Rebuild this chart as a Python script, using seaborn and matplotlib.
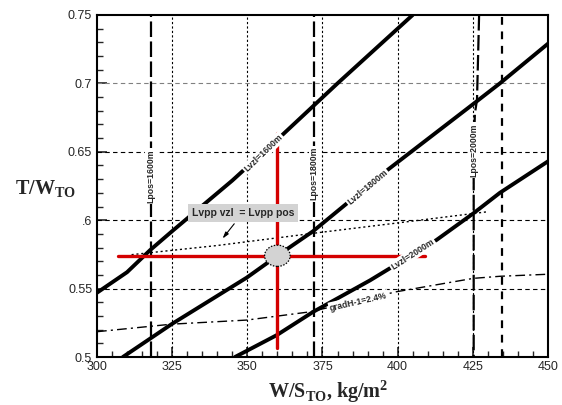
import numpy as np
import matplotlib
matplotlib.use("Agg")
import matplotlib.pyplot as plt
from matplotlib.patches import Ellipse
import seaborn as sns

# curves (W/S, T/W)
lvzl1600_x = [300, 310, 317.6, 325, 345, 361, 380, 405]
lvzl1600_y = [0.547, 0.562, 0.578, 0.592, 0.629, 0.661, 0.700, 0.750]
lvzl1800_x = [308.6, 324.8, 349.8, 360, 371.9, 396.8, 425.2, 434, 450]
lvzl1800_y = [0.500, 0.524, 0.558, 0.574, 0.592, 0.637, 0.685, 0.700, 0.729]
lvzl2000_x = [345.9, 359.8, 371.9, 390.8, 412.9, 425.2, 434, 450]
lvzl2000_y = [0.500, 0.516, 0.533, 0.556, 0.5855, 0.605, 0.620, 0.643]
grad_x = [300, 324.8, 349.8, 370.8, 399.6, 425.2, 434, 450]
grad_y = [0.5185, 0.524, 0.527, 0.533, 0.5477, 0.5575, 0.559, 0.5605]
lvpp_x = [311.5, 340, 374, 400, 430]
lvpp_y = [0.5748, 0.5815, 0.591, 0.598, 0.6062]
lpos1600_x = [318, 318]
lpos1600_y = [0.5, 0.75]
lpos1800_x = [372.3, 372.3]
lpos1800_y = [0.5, 0.75]
lpos2000_x = [427.1, 426.4, 425.7, 425.3, 425.3]
lpos2000_y = [0.75, 0.688, 0.678, 0.65, 0.5]
extra_x = [434.7, 434.7]
extra_y = [0.5, 0.75]

design_ws = 360
design_tw = 0.574
cross_h_x = [307, 409]
cross_v_y = [0.5064, 0.664]

x_major = [300, 325, 350, 375, 400, 425, 450]
y_major = [0.5, 0.55, 0.6, 0.65, 0.7, 0.75]
y_labels = ["0.5", "0.55", ".6", "0.65", "0.7", "0.75"]
grid_x = [325, 350, 375, 400, 425]
grid_y = [0.55, 0.6, 0.65, 0.7]
grid_y_colors = ["black", "black", "black", "0.5"]

sns.set_style("ticks")
plt.rcParams["font.family"] = ["Liberation Sans", "DejaVu Sans"]
plt.rcParams["mathtext.fontset"] = "custom"
plt.rcParams["mathtext.rm"] = "Liberation Serif"
plt.rcParams["mathtext.bf"] = "Liberation Serif:bold"

fig = plt.figure(figsize=(5.62, 4.05), dpi=100)
ax = fig.add_axes([0.1726, 0.1185, 0.8024, 0.8445])

for gx in grid_x:
    ax.axvline(gx, color="black", lw=0.8, linestyle=(0, (2, 2)), zorder=1)
for gy, gc in zip(grid_y, grid_y_colors):
    ax.axhline(gy, color=gc, lw=0.8, linestyle=(0, (4, 3)), zorder=1)

def line(xs, ys, **kw):
    sns.lineplot(x=xs, y=ys, sort=False, estimator=None, color=kw.pop("color", "black"),
                 ax=ax, **kw)

# vertical Lpos lines
for xs, ys in [(lpos1600_x, lpos1600_y), (lpos1800_x, lpos1800_y), (lpos2000_x, lpos2000_y)]:
    line(xs, ys, lw=1.6, linestyle=(0, (7, 2)), zorder=2)
line(extra_x, extra_y, lw=1.6, linestyle=(0, (3.5, 3)), zorder=2)

# gradient and equal-length lines
line(grad_x, grad_y, lw=1.0, linestyle=(0, (7, 3, 1.5, 3)), zorder=2)
line(lvpp_x, lvpp_y, lw=1.0, linestyle=(0, (1.5, 2)), zorder=2)

# Lvzl curves
for xs, ys in [(lvzl1600_x, lvzl1600_y), (lvzl1800_x, lvzl1800_y), (lvzl2000_x, lvzl2000_y)]:
    line(xs, ys, lw=2.8, zorder=3)

# red cross + design point
red = "#d40000"
line(cross_h_x, [design_tw, design_tw], color=red, lw=2.4, zorder=4)
line([design_ws, design_ws], cross_v_y, color=red, lw=2.4, zorder=4)
ax.add_patch(Ellipse((design_ws, design_tw), 8.5, 0.0155, facecolor="#d3d3d3",
                     edgecolor="black", lw=0.9, linestyle=(0, (1.2, 1.2)), zorder=5))

# inline labels
lab = dict(fontsize=6.3, fontweight="bold", ha="center", va="center", zorder=6,
           bbox=dict(boxstyle="square,pad=0.15", fc="white", ec="none"))
ax.text(355.3, 0.649, "Lvzl=1600m", rotation=44, **lab)
ax.text(390, 0.624, "Lvzl=1800m", rotation=40, **lab)
ax.text(405, 0.575, "Lvzl=2000m", rotation=33, **lab)
ax.text(387, 0.5405, "gradH-1=2.4%", rotation=13, **lab)
ax.text(318, 0.632, "Lpos=1600m", rotation=90, **lab)
ax.text(372.3, 0.634, "Lpos=1800m", rotation=90, **lab)
ax.text(425.4, 0.651, "Lpos=2000m", rotation=90, **lab)

ax.annotate("Lvpp vzl  = Lvpp pos", xy=(341.2, 0.585), xytext=(348.5, 0.6053),
            fontsize=7.5, fontweight="bold", ha="center", va="center", zorder=6,
            bbox=dict(boxstyle="square,pad=0.35", fc="#d3d3d3", ec="none"),
            arrowprops=dict(arrowstyle="-|>,head_length=0.5,head_width=0.15",
                            color="black", lw=0.8))

ax.set_xlim(300, 450)
ax.set_ylim(0.5, 0.75)
ax.set_xticks(x_major)
ax.set_xticks(np.arange(300, 451, 5), minor=True)
ax.set_yticks(y_major)
ax.set_yticklabels(y_labels)
ax.set_yticks(np.arange(0.5, 0.751, 0.01), minor=True)
ax.tick_params(which="both", direction="in", top=False, right=False, labelsize=9)
ax.tick_params(which="major", length=7, width=1.2)
ax.tick_params(which="minor", length=4, width=1.0)
ax.tick_params(axis="x", pad=3)
for sp in ax.spines.values():
    sp.set_linewidth(1.5)
    sp.set_color("black")

ax.set_xlabel(r"W/S$_\mathbf{TO}$, kg/m$^\mathbf{2}$", fontsize=14.5,
              fontfamily="Liberation Serif", fontweight="bold", va="top")
ax.xaxis.set_label_coords(0.512, -0.062)
ax.set_ylabel(r"T/W$_\mathbf{TO}$", fontsize=14.5, rotation=0,
              fontfamily="Liberation Serif", fontweight="bold", ha="center", va="center")
ax.yaxis.set_label_coords(-0.115, 0.49)

fig.savefig("out.png", dpi=100)
